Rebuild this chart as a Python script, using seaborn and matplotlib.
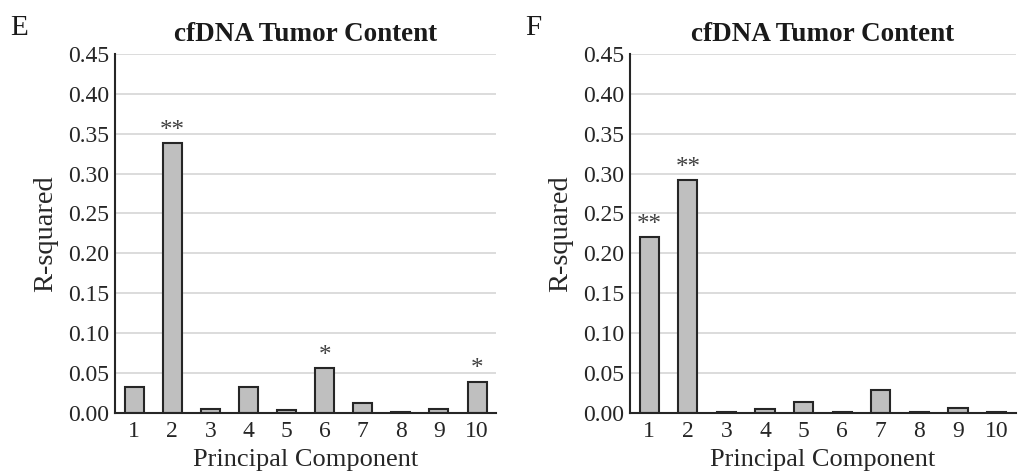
import matplotlib
matplotlib.use("Agg")
import matplotlib.pyplot as plt
import seaborn as sns
import pandas as pd

components = ["1", "2", "3", "4", "5", "6", "7", "8", "9", "10"]
r2_E = [0.0325, 0.338, 0.0045, 0.0325, 0.0035, 0.056, 0.012, 0.001, 0.0045, 0.039]
r2_F = [0.220, 0.2915, 0.001, 0.0045, 0.013, 0.001, 0.028, 0.001, 0.006, 0.001]
stars_E = ["", "**", "", "", "", "*", "", "", "", "*"]
stars_F = ["**", "**", "", "", "", "", "", "", "", ""]
yticks = [0.00, 0.05, 0.10, 0.15, 0.20, 0.25, 0.30, 0.35, 0.40, 0.45]
title = "cfDNA Tumor Content"
panel_letters = ["E", "F"]

sns.set_style("white")
plt.rcParams["font.family"] = ["Liberation Serif", "DejaVu Serif"]

fig = plt.figure(figsize=(10.29, 4.76), dpi=100)
axes = [fig.add_axes([0.1118, 0.133, 0.3703, 0.7536]),
        fig.add_axes([0.6122, 0.133, 0.3751, 0.7536])]

for ax, vals, stars, letter in zip(axes, [r2_E, r2_F], [stars_E, stars_F], panel_letters):
    df = pd.DataFrame({"PC": components, "R2": vals})
    sns.barplot(data=df, x="PC", y="R2", ax=ax, color="#bfbfbf", saturation=1,
                edgecolor="#262626", linewidth=1.5, width=0.5, zorder=3)
    ax.set_ylim(0, 0.45)
    ax.set_xlim(-0.5, len(components) - 0.5)
    ax.set_yticks(yticks)
    ax.set_yticklabels([f"{t:.2f}" for t in yticks])
    ax.yaxis.grid(True, color="#d9d9d9", linewidth=1.3, zorder=0)
    ax.set_axisbelow(True)
    for s in ["top", "right"]:
        ax.spines[s].set_visible(False)
    for s in ["left", "bottom"]:
        ax.spines[s].set_color("#262626")
        ax.spines[s].set_linewidth(1.5)
        ax.spines[s].set_zorder(4)
    ax.tick_params(axis="y", length=0, labelsize=17, colors="#262626", pad=4)
    ax.tick_params(axis="x", length=0, labelsize=17, colors="#262626", pad=6)
    ax.set_xlabel("Principal Component", fontsize=19, color="#262626", labelpad=5)
    ax.set_ylabel("R-squared", fontsize=20.5, color="#262626", labelpad=7)
    ax.set_title(title, fontsize=19.5, fontweight="bold", color="#1a1a1a", pad=9)
    for i, (v, st) in enumerate(zip(vals, stars)):
        if st:
            ax.annotate(st, xy=(i, v), xytext=(0, 1), textcoords="offset points",
                        ha="center", va="bottom", fontsize=18, color="#404040")
    bbox = ax.get_position()
    fig.text(bbox.x0 - 0.102, 0.968, letter, fontsize=21, va="top", ha="left", color="#1a1a1a")

fig.savefig("out.png", dpi=100)
